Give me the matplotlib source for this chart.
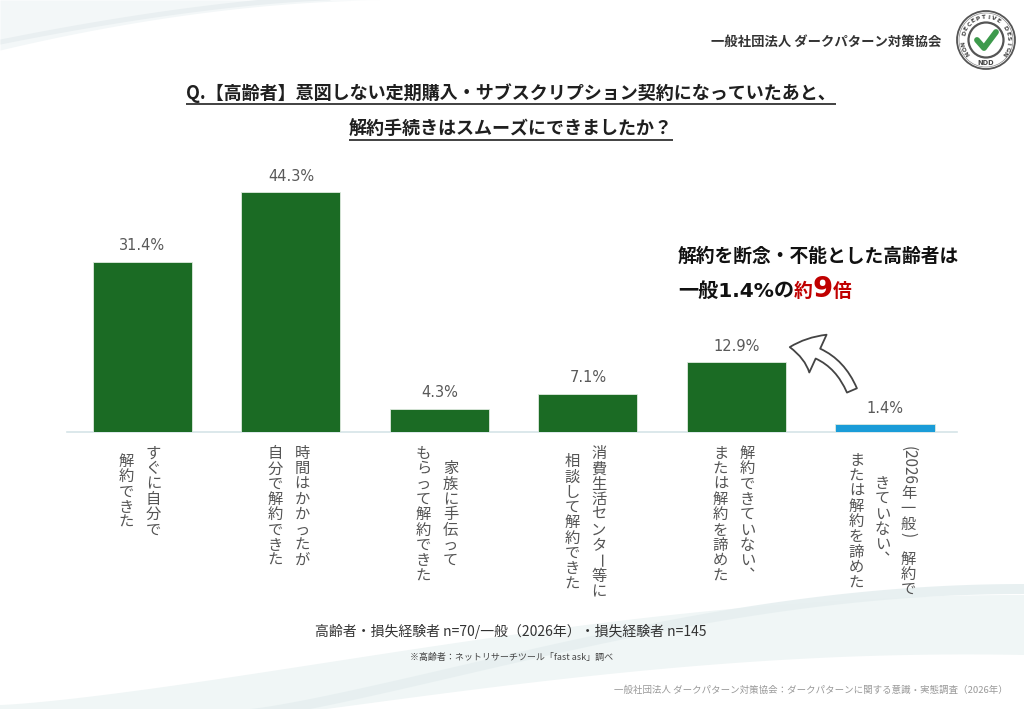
import matplotlib
matplotlib.use('Agg')
import matplotlib.pyplot as plt
import numpy as np
from matplotlib.patches import Circle, FancyArrowPatch

# ---------------- data ----------------
categories = [
    "すぐに自分で\n解約できた",
    "時間はかかったが\n自分で解約できた",
    "家族に手伝って\nもらって解約できた",
    "消費生活センター等に\n相談して解約できた",
    "解約できていない、\nまたは解約を諦めた",
    "(2026年一般) 解約で\nきていない、\nまたは解約を諦めた",
]
values = [31.4, 44.3, 4.3, 7.1, 12.9, 1.4]
bar_colors = ['#1b6b24', '#1b6b24', '#1b6b24', '#1b6b24', '#1b6b24', '#1a9cd8']

title_lines = ["Q.【高齢者】意図しない定期購入・サブスクリプション契約になっていたあと、",
               "解約手続きはスムーズにできましたか？"]
header = "一般社団法人 ダークパターン対策協会"
note_n = "高齢者・損失経験者 n=70/一般（2026年）・損失経験者 n=145"
note_src = "※高齢者：ネットリサーチツール「fast ask」調べ"
source = "一般社団法人 ダークパターン対策協会：ダークパターンに関する意識・実態調査（2026年）"
callout_line1 = "解約を断念・不能とした高齢者は"
callout_line2 = ["一般1.4%の", "約", "9", "倍"]
logo_ring = "NON DECEPTIVE DESIGN"
logo_abbr = "NDD"

plt.rcParams['font.family'] = ['Noto Sans CJK JP', 'DejaVu Sans']

W, H = 1024, 709
fig = plt.figure(figsize=(W / 100, H / 100), dpi=100)
fig.patch.set_facecolor('white')
bg = fig.add_axes([0, 0, 1, 1], zorder=0)
bg.set_xlim(0, W)
bg.set_ylim(H, 0)
bg.axis('off')

# ---------------- faint background swooshes ----------------
xs = np.linspace(0, 380, 100)
bg.fill_between(xs, 0, 50 * (1 - xs / 380) ** 1.8, color='#f3f7f8', lw=0, zorder=0)
xs2 = np.linspace(0, 330, 100)
c2 = 44 * (1 - xs2 / 330) ** 1.5
bg.fill_between(xs2, c2 - 5, c2, color='#e9eff1', lw=0, zorder=0)

xb = np.linspace(0, W, 300)
t = np.clip(xb / 1024, 0, 1)
upper1 = 705 - 110 * np.sin(t * np.pi * 0.5) ** 1.3
bg.fill_between(xb, upper1, upper1 + 40 + 20 * t, color='#f0f6f6', lw=0, zorder=0)
upper2 = 709 - 125 * np.sin(np.clip((xb - 250) / 774, 0, 1) * np.pi * 0.5) ** 1.2
bg.fill_between(xb, upper2, upper2 + 10, color='#e6eff0', lw=0, zorder=0, alpha=0.9)

# ---------------- bars ----------------
ax = fig.add_axes([67 / W, 1 - 432 / H, 890 / W, 271 / H], zorder=2)
ax.patch.set_alpha(0)
x = np.arange(len(values))
ax.bar(x, values, width=0.667, color=bar_colors, edgecolor='#dfeadf', linewidth=0.6, zorder=3)
ax.set_xlim(-0.508, 5.485)
ax.set_ylim(0, 50)
for s in ['top', 'right', 'left']:
    ax.spines[s].set_visible(False)
ax.spines['bottom'].set_color('#d6e4e8')
ax.spines['bottom'].set_linewidth(1.2)
ax.set_xticks([])
ax.set_yticks([])
for xi, v in zip(x, values):
    ax.annotate(f"{v:.1f}%", (xi, v), xytext=(0, 6), textcoords='offset points',
                ha='center', va='bottom', fontsize=10.5, color='#595959',
                family='DejaVu Sans')

fig.canvas.draw()
renderer = fig.canvas.get_renderer()


def text_width(s, **kw):
    tt = bg.text(0, 0, s, **kw)
    w = tt.get_window_extent(renderer).width
    tt.remove()
    return w


# ---------------- vertical category labels ----------------
lab_fs = 11
step = lab_fs * 100 / 72
ROT = set("0123456789()")
lab_color = '#555555'


def tokenize(col):
    toks = []
    for ch in col:
        if ch == 'ー':
            toks.append(['ー', True])
        elif ch in ROT:
            if toks and toks[-1][1] and toks[-1][0] != 'ー' and not toks[-1][0].endswith(')'):
                toks[-1][0] += ch
            else:
                toks.append([ch, True])
        elif ch == '、':
            toks.append(['︑', False])
        elif ch == ' ':
            toks.append([' ', None])
        else:
            toks.append([ch, False])
    return toks


def tok_len(tok):
    s, rot = tok
    if rot is None:
        return step * 0.9
    if rot:
        return text_width(s, fontsize=lab_fs) + 1
    return step


block_top = 446
col_gap = 27
for xi, cat in zip(x, categories):
    disp = ax.transData.transform((xi, 0))
    cx = bg.transData.inverted().transform(disp)[0] - 2.5
    cols = cat.split("\n")
    tok_cols = [tokenize(c) for c in cols]
    lens = [sum(tok_len(tk) for tk in tc) for tc in tok_cols]
    lmax = max(lens)
    n = len(cols)
    gap = col_gap if n == 2 else 26
    for k, (tc, L) in enumerate(zip(tok_cols, lens)):
        colx = cx + ((n - 1) / 2 - k) * gap
        y = block_top + (lmax - L) / 2
        for tok in tc:
            s, rot = tok
            tl = tok_len(tok)
            if rot is None:
                pass
            elif rot:
                bg.text(colx, y, s, fontsize=lab_fs, color=lab_color, rotation=-90,
                        rotation_mode='anchor', ha='left', va='center')
            else:
                bg.text(colx, y + tl / 2, s, fontsize=lab_fs, color=lab_color,
                        ha='center', va='center')
            y += tl

# ---------------- title ----------------
title_y = [93, 129]
inv = bg.transData.inverted()
for line, ty in zip(title_lines, title_y):
    tt = bg.text(511, ty, line, ha='center', va='center', fontsize=13, weight='bold',
                 color='#1f1f1f')
    bb = tt.get_window_extent(renderer)
    (x0, _), (x1, _) = inv.transform([(bb.x0, bb.y0), (bb.x1, bb.y1)])
    bg.plot([x0, x1], [ty + 11, ty + 11], color='#333333', lw=1.3, solid_capstyle='butt')

# ---------------- header + logo ----------------
bg.text(826, 42, header, ha='center', va='center', fontsize=9.6, weight='bold', color='#333333')
lcx, lcy = 986, 40
bg.add_patch(Circle((lcx, lcy), 29, fill=False, ec='#555555', lw=1.3))
bg.add_patch(Circle((lcx, lcy), 27, fill=False, ec='#888888', lw=0.5))
bg.add_patch(Circle((lcx, lcy), 17.5, fill=False, ec='#555555', lw=1.6))
bg.plot([977, 984, 996], [40, 48, 32], color='#3d9a4c', lw=4.2,
        solid_capstyle='round', solid_joinstyle='round')
angles = np.linspace(215, -35, len(logo_ring))
for ch, a in zip(logo_ring, angles):
    r = 22.5
    px = lcx + r * np.cos(np.radians(a))
    py = lcy - r * np.sin(np.radians(a))
    bg.text(px, py, ch, fontsize=4.3, weight='bold', color='#444444',
            rotation=a - 90, ha='center', va='center', family='DejaVu Sans')
bg.text(lcx, lcy + 23, logo_abbr, fontsize=4.8, weight='bold', color='#444444',
        ha='center', va='center', family='DejaVu Sans')

# ---------------- callout ----------------
bg.text(678, 262, callout_line1, ha='left', va='baseline', fontsize=13.5,
        weight='bold', color='#111111')
cx0 = 678
styles = [dict(fontsize=14.5, color='#111111', family=['DejaVu Sans', 'Noto Sans CJK JP']),
          dict(fontsize=13.5, color='#c00000'),
          dict(fontsize=21, color='#c00000', family=['DejaVu Sans']),
          dict(fontsize=13.5, color='#c00000')]
for piece, st in zip(callout_line2, styles):
    bg.text(cx0, 297, piece, ha='left', va='baseline', weight='bold', **st)
    cx0 += text_width(piece, weight='bold', **st)

arrow = FancyArrowPatch((853, 393), (787, 347),
                        connectionstyle="arc3,rad=0.33",
                        arrowstyle="simple,head_length=1.6,head_width=2.3,tail_width=0.6",
                        mutation_scale=13, facecolor='white', edgecolor='#444444',
                        lw=1.3, zorder=5)
bg.add_patch(arrow)

# ---------------- notes ----------------
bg.text(511, 631, note_n, ha='center', va='center', fontsize=10, color='#333333')
bg.text(512, 657, note_src, ha='center', va='center', fontsize=6.5, color='#444444')
bg.text(1008, 690, source, ha='right', va='center', fontsize=6.8, color='#999999')

fig.savefig('out.png', dpi=100, facecolor='white')
